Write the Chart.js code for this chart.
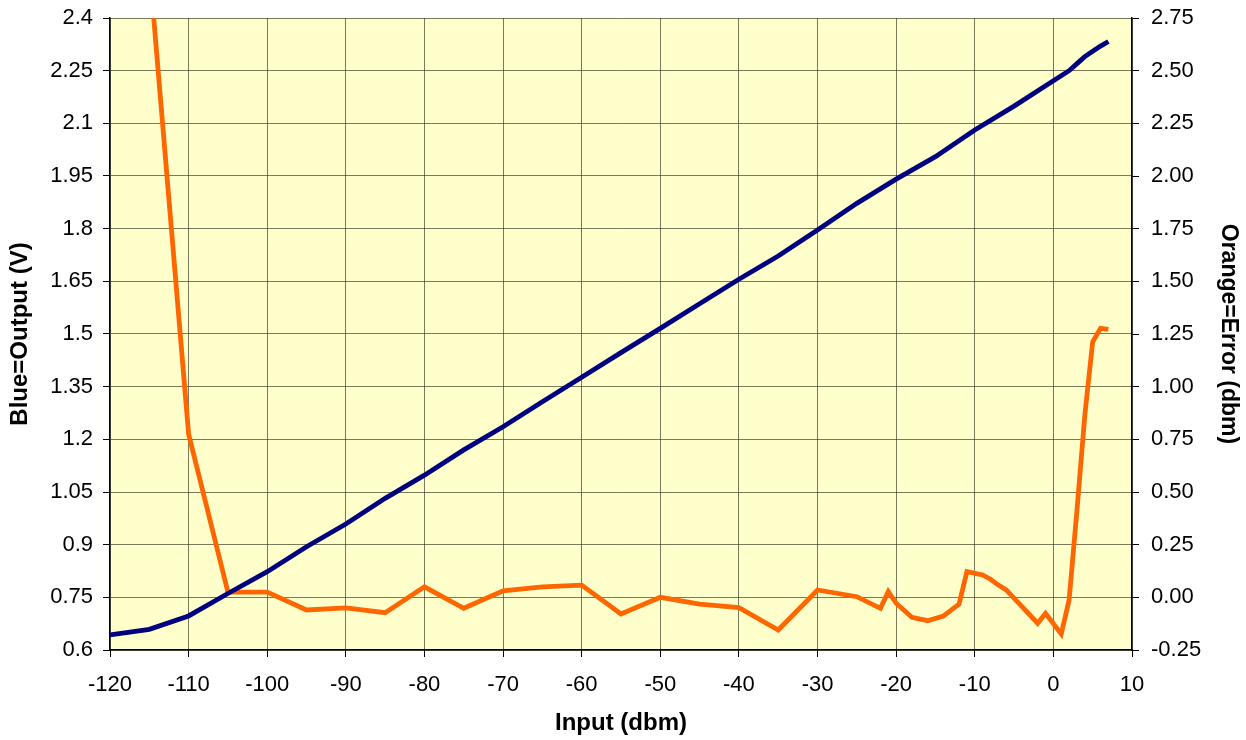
<!DOCTYPE html>
<html><head><meta charset="utf-8">
<script src="https://cdn.jsdelivr.net/npm/chart.js@4.4.0/dist/chart.umd.min.js"></script>
<style>html,body{margin:0;padding:0;background:#fff;} #wrap{width:1246px;height:740px;position:relative;}</style>
</head><body><div id="wrap"><canvas id="c" width="1246" height="740"></canvas></div>
<script>
// Blue series: Output (V) vs Input (dbm)
const outputX = [-120,-115,-110,-105,-100,-95,-90,-85,-80,-75,-70,-65,-60,-55,-50,-45,-40,-35,-30,-25,-20,-15,-10,-5,0,2,3,4,5,6,7];
const outputV = [0.643,0.659,0.697,0.761,0.823,0.894,0.959,1.032,1.098,1.170,1.236,1.307,1.377,1.447,1.516,1.586,1.656,1.722,1.796,1.872,1.941,2.005,2.081,2.149,2.221,2.25,2.27,2.29,2.305,2.32,2.333];
// Orange series: Error (dbm) vs Input (dbm)
const errorX = [-115,-110,-105,-100,-95,-90,-85,-80,-75,-70,-65,-60,-55,-50,-45,-40,-35,-30,-25,-22,-21,-20,-18,-16,-14,-12,-11,-9,-8,-7,-6,-2,-1,1,2,3,4,5,6,7];
const errorV = [3.0,0.775,0.025,0.025,-0.06,-0.05,-0.073,0.05,-0.052,0.031,0.05,0.058,-0.079,0.0,-0.032,-0.049,-0.155,0.035,0.003,-0.052,0.027,-0.028,-0.095,-0.111,-0.089,-0.032,0.122,0.106,0.086,0.058,0.035,-0.123,-0.076,-0.174,-0.013,0.414,0.865,1.213,1.277,1.272];
// Tick labels
const xTicks = [-120,-110,-100,-90,-80,-70,-60,-50,-40,-30,-20,-10,0,10];
const leftTickLabels = ['0.6','0.75','0.9','1.05','1.2','1.35','1.5','1.65','1.8','1.95','2.1','2.25','2.4'];
const rightTickLabels = ['-0.25','0.00','0.25','0.50','0.75','1.00','1.25','1.50','1.75','2.00','2.25','2.50','2.75'];

const FAM = "'Liberation Sans', Arial, sans-serif";
const tickFont = {family: FAM, size: 22};
const titleFont = {family: FAM, size: 24, weight: 'bold'};
const gridColor = 'rgba(50,50,30,0.65)';

const bgPlugin = {
  id: 'plotBg',
  beforeDraw(chart) {
    const {ctx, chartArea: a} = chart;
    ctx.save();
    ctx.fillStyle = '#FFFFCC';
    ctx.fillRect(a.left, a.top, a.right - a.left, a.bottom - a.top);
    ctx.restore();
  }
};

function noPad(s) { s.paddingTop = 0; s.paddingBottom = 0; s.paddingLeft = 0; s.paddingRight = 0; }

new Chart(document.getElementById('c'), {
  type: 'line',
  data: {
    datasets: [
      {
        label: 'Output',
        data: outputX.map((x, i) => ({x, y: outputV[i]})),
        yAxisID: 'y',
        borderColor: '#000080',
        borderWidth: 4.8,
        pointRadius: 0,
        tension: 0,
        fill: false,
        clip: 0
      },
      {
        label: 'Error',
        data: errorX.map((x, i) => ({x, y: errorV[i]})),
        yAxisID: 'y1',
        borderColor: '#FF6600',
        borderWidth: 4.8,
        pointRadius: 0,
        tension: 0,
        fill: false,
        clip: 0
      }
    ]
  },
  options: {
    responsive: false,
    animation: false,
    layout: {padding: {top: 18, left: 0, right: 0, bottom: 0}},
    plugins: {legend: {display: false}, tooltip: {enabled: false}},
    scales: {
      x: {
        type: 'linear', min: -120, max: 10,
        afterBuildTicks: s => { s.ticks = xTicks.map(v => ({value: v})); },
        afterFit: s => { s.height = 90; noPad(s); },
        grid: {color: gridColor, lineWidth: 1, tickLength: 7, tickColor: '#000'},
        border: {color: '#000', width: 1.5},
        ticks: {font: tickFont, color: '#000', padding: 15, maxRotation: 0, autoSkip: false},
        title: {display: true, text: 'Input (dbm)', font: titleFont, color: '#000', padding: {top: 0, bottom: 2}}
      },
      y: {
        position: 'left', min: 0.6, max: 2.4,
        afterBuildTicks: s => { s.ticks = leftTickLabels.map(t => ({value: parseFloat(t)})); },
        afterFit: s => { s.width = 110; noPad(s); },
        grid: {color: gridColor, lineWidth: 1, tickLength: 7, tickColor: '#000'},
        border: {color: '#000', width: 1.5},
        ticks: {font: tickFont, color: '#000', padding: 10, autoSkip: false,
                callback: (v, i) => leftTickLabels[i]},
        title: {display: true, text: 'Blue=Output (V)', font: titleFont, color: '#000', padding: {top: 6, bottom: 0}}
      },
      y1: {
        position: 'right', min: -0.25, max: 2.75,
        afterBuildTicks: s => { s.ticks = rightTickLabels.map(t => ({value: parseFloat(t)})); },
        afterFit: s => { s.width = 114; noPad(s); },
        grid: {drawOnChartArea: false, tickLength: 7, tickColor: '#000'},
        border: {color: '#000', width: 1.5},
        ticks: {font: tickFont, color: '#000', padding: 12, autoSkip: false,
                callback: (v, i) => rightTickLabels[i]},
        title: {display: true, text: 'Orange=Error (dbm)', font: {family: FAM, size: 23, weight: 'bold'}, color: '#000', padding: {top: 4, bottom: 0}}
      }
    }
  },
  plugins: [bgPlugin]
});
</script>
</body></html>
